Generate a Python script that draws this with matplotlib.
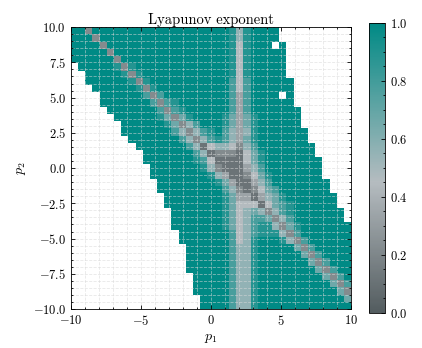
import numpy as np
import matplotlib
matplotlib.use('Agg')
import matplotlib.pyplot as plt
from matplotlib.colors import LinearSegmentedColormap
from matplotlib.ticker import MultipleLocator, AutoMinorLocator

plt.rcParams.update({
    'font.family': 'serif',
    'font.serif': ['cmr10'],
    'mathtext.fontset': 'cm',
    'axes.formatter.use_mathtext': True,
    'axes.unicode_minus': True,
    'axes.linewidth': 0.6,
})

# parameter grid edges (39 x 39 cells)
p1_edges = np.linspace(-10, 10, 40)
p2_edges = np.linspace(-10, 10, 40)

# exponent, top row = p2 ~ 10, '.' = no value
# digit d means d / 9
lyap_rows = [
    "9929999999" "9999999999" "998589999." ".........",
    "9992999999" "9999999999" "998589999." ".........",
    "9999299999" "9999999999" "99848999.9" ".........",
    "9999929999" "9999999999" "9984899999" ".........",
    "9999992999" "9999999999" "9984899999" ".........",
    ".999998289" "9999999999" "9984899999" ".........",
    "..99999828" "9999999999" "9984899999" ".........",
    "..99999982" "8999999999" "9974799999" "9........",
    "...9999998" "2899999999" "9974799999" "9........",
    "....999999" "7279999999" "997379999." "9........",
    "....999999" "9727899999" "9973799999" "9........",
    ".....99999" "9972789999" "9973799999" "99.......",
    "......9999" "9986268999" "9863689999" "99.......",
    ".......999" "9998625799" "9863689999" "99.......",
    ".......999" "9999752578" "9753589999" "999......",
    "........99" "9999975257" "8753689999" "999......",
    ".........9" "9999997514" "5542579999" "9999.....",
    ".........." "9999999751" "2221468999" "9999.....",
    ".........." "9999999874" "1111468999" "99999....",
    ".........." ".999999985" "2111357999" "99999....",
    ".........." ".999999998" "5311246899" "99999....",
    ".........." "..99999999" "8631135799" "999999...",
    ".........." "..99999999" "9752124679" "999999...",
    ".........." "...9999999" "9863313568" "9999999..",
    ".........." "...9999999" "9864441467" "8999999..",
    ".........." "....999999" "9864565257" "89999999.",
    ".........." "....999999" "9864577625" "79999999.",
    ".........." "....999999" "9864578852" "689999999",
    ".........." ".....99999" "9974578885" "279999999",
    ".........." ".....99999" "9974589998" "527999999",
    ".........." "......9999" "9975589999" "962799999",
    ".........." "......9999" "9975589999" "996279999",
    ".........." "......9999" "9975589999" "999627999",
    ".........." "......9999" "9975589999" "999962799",
    ".........." ".......999" "9975589999" "999996279",
    ".........." ".......999" "9975589999" "999999627",
    ".........." ".......999" "9975589999" "999999962",
    ".........." "........99" "9975589999" "999999996",
    ".........." "........99" "9975589999" "999999999",
]
for row in lyap_rows:
    assert len(row) == 39, row

lyap = np.array([[np.nan if ch == '.' else int(ch) / 9 for ch in row]
                 for row in lyap_rows])[::-1]

cmap = LinearSegmentedColormap.from_list(
    'grayteal', [(0.0, '#535c5f'), (0.45, '#b5bcc0'), (1.0, '#008a85')])

fig = plt.figure(figsize=(4.22, 3.48), dpi=100)
ax = fig.add_axes([0.168, 0.112, 0.664, 0.810])
cax = fig.add_axes([0.875, 0.101, 0.037, 0.834])

mesh = ax.pcolormesh(p1_edges, p2_edges, np.ma.masked_invalid(lyap),
                     cmap=cmap, vmin=0, vmax=1)
ax.set_xlim(-10, 10)
ax.set_ylim(-10, 10)
ax.xaxis.set_major_locator(MultipleLocator(5))
ax.xaxis.set_minor_locator(MultipleLocator(1))
ax.yaxis.set_major_locator(MultipleLocator(2.5))
ax.yaxis.set_minor_locator(MultipleLocator(0.5))
ax.grid(True, which='both', ls='--', lw=0.6, color='#d9d9d9', alpha=0.6)
ax.tick_params(which='both', direction='in', top=True, right=True,
               labelsize=9, width=0.6)
ax.tick_params(which='major', length=3)
ax.tick_params(which='minor', length=1.6)
ax.set_title('Lyapunov exponent', fontsize=10.5, pad=2)
ax.set_xlabel(r'$p_1$', fontsize=10, labelpad=3)
ax.set_ylabel(r'$p_2$', fontsize=10, labelpad=3)

cb = fig.colorbar(mesh, cax=cax)
cb.set_ticks([0.0, 0.2, 0.4, 0.6, 0.8, 1.0])
cb.ax.yaxis.set_minor_locator(AutoMinorLocator(4))
cb.ax.tick_params(which='both', direction='in', labelsize=9, width=0.6)
cb.ax.tick_params(which='major', length=3)
cb.ax.tick_params(which='minor', length=1.6)
cb.outline.set_linewidth(0.6)

fig.savefig('out.png', dpi=100)
